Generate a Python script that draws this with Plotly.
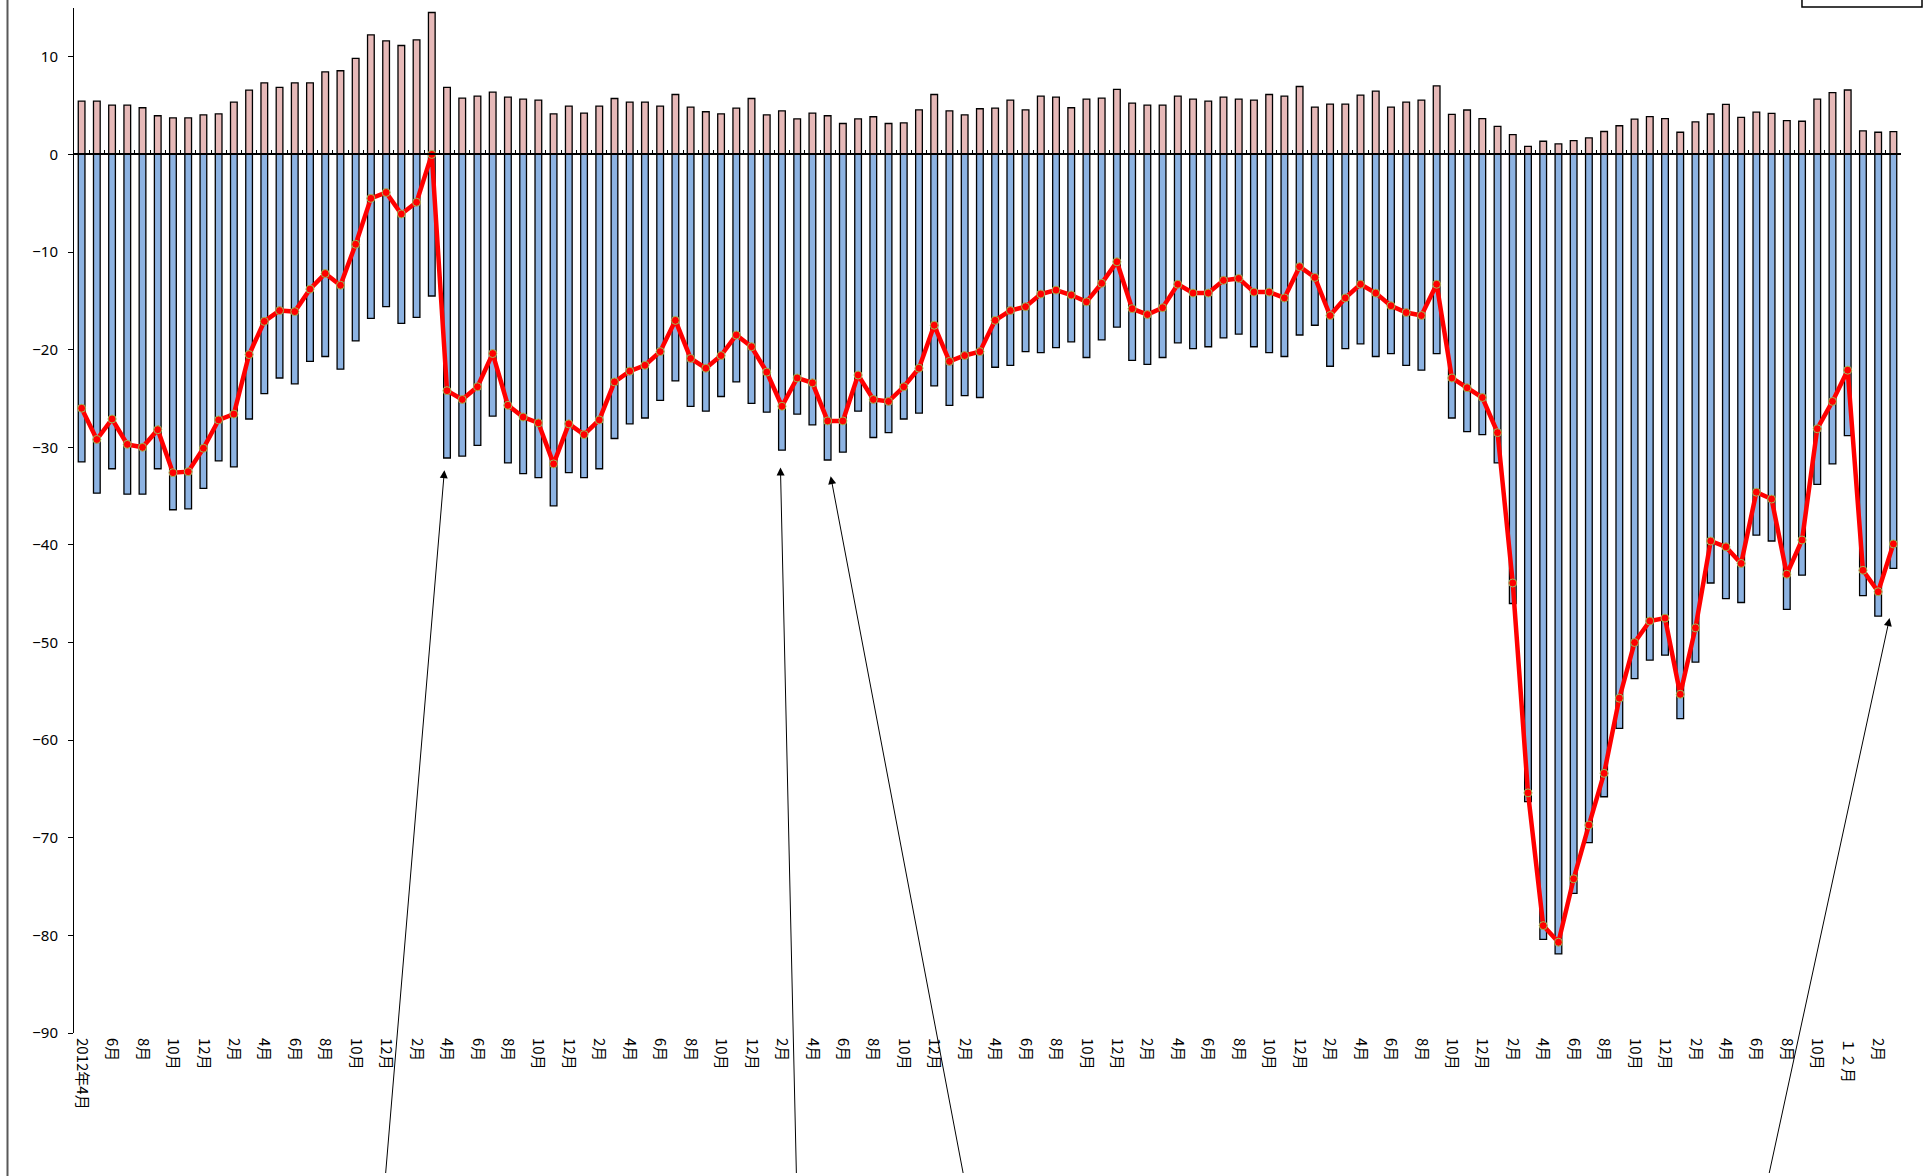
import plotly.graph_objects as go

# 2012年4月 .. 2022年3月 (120 months)
months = list(range(120))

tick_idx = list(range(0, 120, 2))
tick_labels = [
    "2012年4月", "6月", "8月", "10月", "12月",
    "2月", "4月", "6月", "8月", "10月", "12月",
    "2月", "4月", "6月", "8月", "10月", "12月",
    "2月", "4月", "6月", "8月", "10月", "12月",
    "2月", "4月", "6月", "8月", "10月", "12月",
    "2月", "4月", "6月", "8月", "10月", "12月",
    "2月", "4月", "6月", "8月", "10月", "12月",
    "2月", "4月", "6月", "8月", "10月", "12月",
    "2月", "4月", "6月", "8月", "10月", "12月",
    "2月", "4月", "6月", "8月", "10月", "１２月",
    "2月",
]

positive = [
    5.46, 5.46, 5.05, 5.05, 4.78, 3.96, 3.75, 3.75, 4.06, 4.16,
    5.36, 6.59, 7.34, 6.86, 7.34, 7.34, 8.46, 8.57, 9.83, 12.25,
    11.64, 11.16, 11.74, 14.54, 6.86, 5.77, 5.97, 6.38, 5.87, 5.67,
    5.56, 4.16, 4.95, 4.23, 4.95, 5.73, 5.36, 5.36, 4.95, 6.14,
    4.85, 4.37, 4.16, 4.74, 5.73, 4.06, 4.47, 3.65, 4.23, 3.96,
    3.17, 3.65, 3.86, 3.17, 3.24, 4.57, 6.14, 4.47, 4.06, 4.68,
    4.74, 5.56, 4.57, 5.97, 5.87, 4.78, 5.67, 5.77, 6.66, 5.26,
    5.05, 5.05, 5.97, 5.67, 5.46, 5.87, 5.67, 5.56, 6.14, 5.97,
    6.96, 4.85, 5.15, 5.15, 6.08, 6.48, 4.85, 5.36, 5.56, 7.03,
    4.10, 4.55, 3.66, 2.88, 2.02, 0.82, 1.35, 1.09, 1.42, 1.69,
    2.35, 2.94, 3.61, 3.87, 3.66, 2.27, 3.34, 4.14, 5.13, 3.80,
    4.34, 4.20, 3.47, 3.40, 5.66, 6.33, 6.60, 2.41, 2.27, 2.34,
]

negative = [
    -31.5, -34.7, -32.2, -34.8, -34.8, -32.2, -36.4, -36.3, -34.2, -31.4,
    -32.0, -27.1, -24.5, -22.9, -23.5, -21.2, -20.7, -22.0, -19.1, -16.8,
    -15.6, -17.3, -16.7, -14.5, -31.1, -30.9, -29.8, -26.8, -31.6, -32.7,
    -33.1, -36.0, -32.6, -33.1, -32.2, -29.1, -27.6, -27.0, -25.2, -23.2,
    -25.8, -26.3, -24.8, -23.3, -25.5, -26.4, -30.3, -26.6, -27.7, -31.3,
    -30.5, -26.3, -29.0, -28.5, -27.1, -26.5, -23.7, -25.7, -24.7, -24.9,
    -21.8, -21.6, -20.2, -20.3, -19.8, -19.2, -20.8, -19.0, -17.7, -21.1,
    -21.5, -20.8, -19.3, -19.9, -19.7, -18.8, -18.4, -19.7, -20.3, -20.7,
    -18.5, -17.5, -21.7, -19.9, -19.4, -20.7, -20.4, -21.6, -22.1, -20.4,
    -27.0, -28.4, -28.7, -31.6, -46.0, -66.3, -80.4, -81.9, -75.7, -70.5,
    -65.8, -58.8, -53.7, -51.8, -51.3, -57.8, -52.0, -43.9, -45.5, -45.9,
    -39.0, -39.6, -46.6, -43.1, -33.8, -31.7, -28.8, -45.2, -47.3, -42.4,
]

net = [
    -26.0, -29.2, -27.1, -29.7, -30.0, -28.2, -32.6, -32.5, -30.1, -27.2,
    -26.6, -20.5, -17.1, -16.0, -16.1, -13.8, -12.2, -13.4, -9.2, -4.5,
    -3.9, -6.1, -4.9, 0.0, -24.2, -25.1, -23.8, -20.4, -25.7, -26.9,
    -27.5, -31.7, -27.6, -28.7, -27.2, -23.3, -22.2, -21.6, -20.2, -17.0,
    -20.9, -21.9, -20.6, -18.5, -19.7, -22.3, -25.8, -22.9, -23.4, -27.3,
    -27.3, -22.6, -25.1, -25.3, -23.8, -21.9, -17.5, -21.2, -20.6, -20.2,
    -17.0, -16.0, -15.6, -14.3, -13.9, -14.4, -15.1, -13.2, -11.0, -15.8,
    -16.4, -15.7, -13.3, -14.2, -14.2, -12.9, -12.7, -14.1, -14.1, -14.7,
    -11.5, -12.6, -16.5, -14.7, -13.3, -14.2, -15.5, -16.2, -16.5, -13.3,
    -22.9, -23.9, -24.9, -28.5, -43.9, -65.4, -79.0, -80.7, -74.2, -68.7,
    -63.4, -55.7, -50.0, -47.8, -47.5, -55.3, -48.5, -39.6, -40.2, -41.9,
    -34.6, -35.3, -43.0, -39.5, -28.1, -25.3, -22.1, -42.6, -44.8, -39.9,
]

y_ticks = [-90, -80, -70, -60, -50, -40, -30, -20, -10, 0, 10]
boundaries = [k - 0.5 for k in range(121)]

fig = go.Figure()

fig.add_trace(go.Bar(
    x=months, y=positive, width=0.44,
    marker=dict(color="#E6B9B8", line=dict(color="#000000", width=1.3)),
    showlegend=False, hoverinfo="skip",
))
fig.add_trace(go.Bar(
    x=months, y=negative, width=0.44,
    marker=dict(color="#8DB3E2", line=dict(color="#000000", width=1.3)),
    showlegend=False, hoverinfo="skip",
))
fig.add_trace(go.Scatter(
    x=months, y=net, mode="lines+markers",
    line=dict(color="#FF0000", width=4.5),
    marker=dict(color="#FF0000", size=8, line=dict(color="#9BBB59", width=1)),
    showlegend=False, hoverinfo="skip",
))
# helper trace for the zero-line axis with boundary ticks
fig.add_trace(go.Scatter(x=[], y=[], xaxis="x2", yaxis="y", showlegend=False))

fig.update_layout(
    width=1932, height=1176,
    paper_bgcolor="white", plot_bgcolor="white",
    margin=dict(l=74, r=31, t=8, b=143, autoexpand=False),
    barmode="overlay",
    xaxis=dict(
        range=[-0.5, 119.5], tickmode="array", tickvals=tick_idx, ticktext=tick_labels,
        tickangle=90, ticks="", showline=False, showgrid=False, zeroline=False,
        tickfont=dict(family="Noto Sans CJK JP", size=15, color="#000000"),
        ticklabelstandoff=4,
    ),
    xaxis2=dict(
        range=[-0.5, 119.5], overlaying="x", anchor="free", position=90 / 105,
        tickmode="array", tickvals=boundaries, showticklabels=False,
        ticks="inside", ticklen=4, tickwidth=1, tickcolor="#000000",
        showline=True, linecolor="#000000", linewidth=1.5,
        showgrid=False, zeroline=False,
    ),
    yaxis=dict(
        range=[-90, 15], tickmode="array", tickvals=y_ticks,
        ticks="outside", ticklen=5, tickcolor="#000000", tickwidth=1,
        showline=True, linecolor="#000000", linewidth=1,
        showgrid=False, zeroline=False,
        tickfont=dict(family="Noto Sans", size=15, color="#000000"),
        ticklabelstandoff=7,
    ),
    shapes=[
        dict(type="line", xref="paper", yref="paper", x0=-0.0364, x1=-0.0364,
             y0=-0.3, y1=1.2, line=dict(color="#595959", width=2)),
        dict(type="rect", xref="paper", yref="paper", x0=0.9458, x1=1.0115,
             y0=1.001, y1=1.1, line=dict(color="#000000", width=1.5),
             fillcolor="white"),
    ],
)

arrows = [
    (23.83, -32.35, -59, 740),
    (45.9, -32.07, 16, 740),
    (49.2, -32.96, 133, 735),
    (118.75, -47.5, -121, 598),
]
for hx, hy, ax, ay in arrows:
    fig.add_annotation(
        x=hx, y=hy, xref="x", yref="y", ax=ax, ay=ay, axref="pixel", ayref="pixel",
        text=" ", font=dict(size=2), showarrow=True, arrowhead=2, arrowsize=1.6,
        arrowwidth=1, arrowcolor="#000000", standoff=0,
    )

fig.write_html(
    "out.html",
    config={"displayModeBar": False},
    post_script="document.body.style.margin='0px';document.body.style.overflow='hidden';",
)
